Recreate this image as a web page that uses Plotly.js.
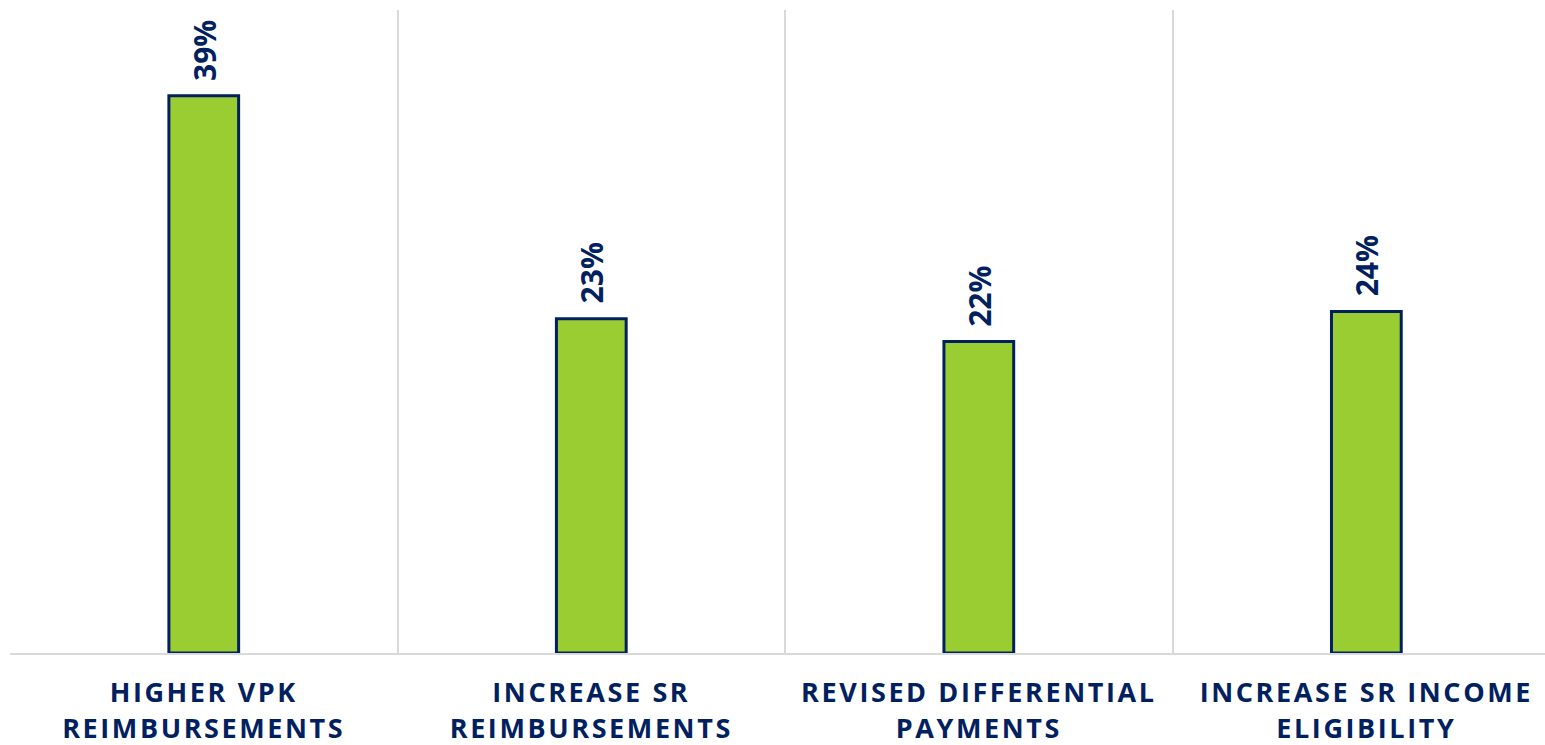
<!DOCTYPE html>
<html>
<head>
<meta charset="utf-8">
<script src="https://cdn.plot.ly/plotly-3.0.1.min.js"></script>
<style>
html,body{margin:0;padding:0;background:#fff;}
#chart{width:1545px;height:745px;}
.xtick text{letter-spacing:2.6px;}
</style>
</head>
<body>
<div id="chart"></div>
<script>
const categories = ["HIGHER VPK<br>REIMBURSEMENTS", "INCREASE SR<br>REIMBURSEMENTS", "REVISED DIFFERENTIAL<br>PAYMENTS", "INCREASE SR INCOME<br>ELIGIBILITY"];
const values = [39.0, 23.4, 21.8, 23.9];
const labels = ["39%", "23%", "22%", "24%"];

const navy = "#002060";
const green = "#9ACD32";

const trace = {
  type: "bar",
  x: categories,
  y: values,
  width: 0.18,
  marker: {color: green, line: {color: navy, width: 3}},
  hoverinfo: "skip"
};

const annotations = categories.map((c, i) => ({
  x: c, y: values[i], xref: "x", yref: "y",
  text: "<b>" + labels[i] + "</b>",
  showarrow: false, textangle: -90,
  yanchor: "bottom", xanchor: "center",
  yshift: 13,
  font: {family: "Open Sans, sans-serif", size: 30, color: navy}
}));

const layout = {
  width: 1545, height: 745,
  margin: {l: 10, r: 0, t: 10, b: 92},
  paper_bgcolor: "#fff", plot_bgcolor: "#fff",
  showlegend: false,
  xaxis: {
    type: "category",
    range: [-0.5, 3.461],
    tickson: "boundaries",
    showgrid: true, gridcolor: "#D9D9D9", gridwidth: 2,
    showline: true, linecolor: "#D9D9D9", linewidth: 2,
    ticks: "", ticklabelstandoff: 15,
    tickfont: {family: "Open Sans, sans-serif", size: 27, color: navy, weight: "bold"},
    zeroline: false
  },
  yaxis: {
    range: [0, 45],
    showgrid: false, zeroline: false, showticklabels: false, showline: false, ticks: ""
  },
  annotations: annotations,
  bargap: 0.82
};

Plotly.newPlot("chart", [trace], layout, {displayModeBar: false, staticPlot: true});
</script>
</body>
</html>
